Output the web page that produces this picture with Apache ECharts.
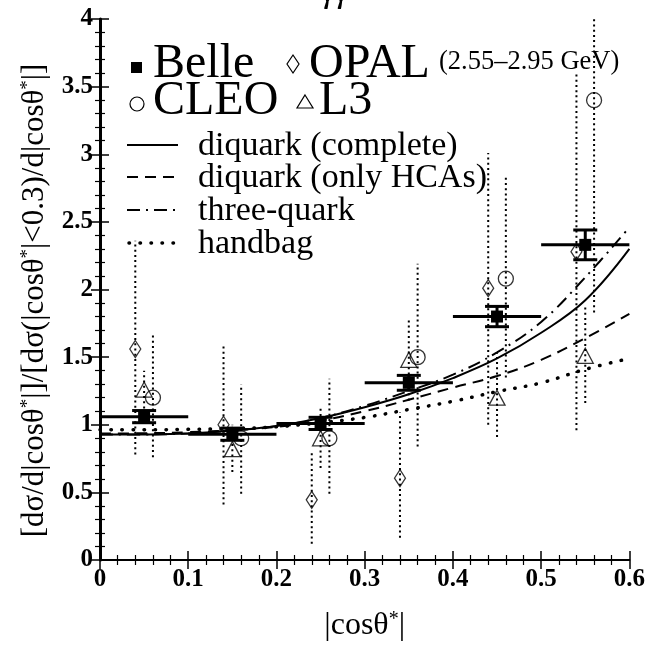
<!DOCTYPE html>
<html><head><meta charset="utf-8">
<script src="https://cdn.jsdelivr.net/npm/echarts@6/dist/echarts.min.js"></script>
<style>html,body{margin:0;padding:0;background:#fff}#c{width:648px;height:647px}</style>
</head><body><div id="c"></div>
<script>
// ---- data ----
const xTicks = [0, 0.1, 0.2, 0.3, 0.4, 0.5, 0.6];
const yTicks = [0, 0.5, 1, 1.5, 2, 2.5, 3, 3.5, 4];
const binHalfWidth = 0.05;
const belleX = [0.05, 0.15, 0.25, 0.35, 0.45, 0.55];
const belleY = [1.06, 0.93, 1.01, 1.31, 1.80, 2.33];
const belleErr = [0.045, 0.045, 0.045, 0.055, 0.075, 0.11];

const opalX = [0.04, 0.14, 0.24, 0.34, 0.44, 0.54];
const opalY = [1.56, 1.00, 0.445, 0.605, 2.01, 2.28];
const opalLo = [0.78, 0.41, 0.12, 0.165, 1.00, 0.96];
const opalHi = [2.36, 1.59, 0.80, 1.09, 3.01, 3.59];

const cleoX = [0.06, 0.16, 0.26, 0.36, 0.46, 0.56];
const cleoY = [1.20, 0.90, 0.90, 1.50, 2.08, 3.40];
const cleoLo = [0.76, 0.49, 0.49, 0.84, 1.35, 1.83];
const cleoHi = [1.66, 1.30, 1.34, 2.19, 2.83, 4.97];

const l3X = [0.05, 0.15, 0.25, 0.35, 0.45, 0.55];
const l3Y = [1.26, 0.82, 0.90, 1.48, 1.20, 1.51];
const l3Lo = [1.12, 0.65, 0.68, 1.18, 0.91, 1.16];
const l3Hi = [1.40, 1.00, 1.14, 1.79, 1.53, 1.89];

const curveX = [0, 0.05, 0.1, 0.15, 0.2, 0.25, 0.3, 0.35, 0.4, 0.45, 0.5, 0.55, 0.6];
const diquarkComplete = [0.927, 0.928, 0.935, 0.958, 0.99, 1.05, 1.13, 1.226, 1.345, 1.49, 1.68, 1.92, 2.30];
const diquarkHCA = [0.935, 0.937, 0.945, 0.96, 0.985, 1.03, 1.10, 1.185, 1.275, 1.36, 1.48, 1.64, 1.82];
const threeQuark = [0.927, 0.928, 0.935, 0.958, 0.99, 1.05, 1.14, 1.25, 1.37, 1.535, 1.76, 2.09, 2.46];
const handbag = [0.963, 0.963, 0.966, 0.972, 0.985, 1.015, 1.054, 1.113, 1.173, 1.245, 1.31, 1.41, 1.49];

// ---- helpers ----
const FONT = '"Liberation Serif", "DejaVu Serif", serif';
const zip = (a, b) => a.map((v, i) => [v, b[i]]);

function belleRender(params, api) {
  const x = api.value(0), y = api.value(1), e = api.value(2), hw = api.value(3);
  const pL = api.coord([x - hw, y]), pR = api.coord([x + hw, y]);
  const pT = api.coord([x, y + e]), pB = api.coord([x, y - e]);
  const c = api.coord([x, y]);
  const st = { stroke: '#000', lineWidth: 3 };
  const cap = 12;
  return { type: 'group', children: [
    { type: 'line', shape: { x1: pL[0], y1: pL[1], x2: pR[0], y2: pR[1] }, style: st },
    { type: 'line', shape: { x1: pT[0], y1: pT[1], x2: pB[0], y2: pB[1] }, style: st },
    { type: 'line', shape: { x1: pT[0] - cap, y1: pT[1], x2: pT[0] + cap, y2: pT[1] }, style: st },
    { type: 'line', shape: { x1: pB[0] - cap, y1: pB[1], x2: pB[0] + cap, y2: pB[1] }, style: st },
    { type: 'rect', shape: { x: c[0] - 6, y: c[1] - 6, width: 12, height: 12 }, style: { fill: '#000' } }
  ]};
}
function dotErrRender(params, api) {
  const x = api.value(0), lo = api.value(1), hi = api.value(2);
  const a = api.coord([x, lo]), b = api.coord([x, hi]);
  return { type: 'line', shape: { x1: a[0], y1: a[1], x2: b[0], y2: b[1] },
    style: { stroke: '#000', lineWidth: 2, lineDash: [2, 3.2] } };
}
function errSeries(xs, lo, hi) {
  return { type: 'custom', clip: true, renderItem: dotErrRender, z: 3,
    data: xs.map((x, i) => [x, lo[i], hi[i]]) };
}
function markerSeries(xs, ys, symbol, size) {
  return { type: 'scatter', symbol: symbol, symbolSize: size, z: 4,
    itemStyle: { color: 'rgba(0,0,0,0)', borderColor: '#000', borderWidth: 1.3 },
    data: zip(xs, ys) };
}
function curve(ys, lineStyle) {
  return { type: 'line', smooth: 0.4, showSymbol: false, z: 5,
    lineStyle: Object.assign({ color: '#000', width: 2 }, lineStyle), data: zip(curveX, ys) };
}

function axisCommon(w) {
  return {
    axisLine: { show: true, lineStyle: { color: '#000', width: w } },
    axisTick: { show: true, inside: true, length: 9, lineStyle: { color: '#000', width: 1.5 } },
    minorTick: { show: true, splitNumber: 5, length: 5, lineStyle: { color: '#000', width: 1.2 } },
    splitLine: { show: false }
  };
}
const labelStyle = { color: '#000', fontFamily: FONT, fontWeight: 'bold', fontSize: 25 };

const chart = echarts.init(document.getElementById('c'), null, { renderer: 'canvas' });
const opt = {
  animation: false,
  backgroundColor: '#fff',
  grid: { left: 100, right: 18, top: 19, bottom: 70 },
  xAxis: [
    Object.assign({ type: 'value', min: xTicks[0], max: xTicks[xTicks.length - 1], interval: 0.1,
      position: 'bottom',
      axisLabel: Object.assign({ margin: 7, formatter: v => String(+v.toFixed(1)) }, labelStyle),
      name: '|cosθ{s|*}|', nameLocation: 'middle', nameGap: 50,
      nameTextStyle: { color: '#000', fontFamily: FONT, fontSize: 32,
        rich: { s: { fontFamily: FONT, fontSize: 20, verticalAlign: 'top', color: '#000' } } } }, axisCommon(2)),
    Object.assign({ type: 'value', min: 0, max: 0.6, interval: 0.1, position: 'top',
      axisLabel: { show: false } }, axisCommon(1.5))
  ],
  yAxis: [
    Object.assign({ type: 'value', min: yTicks[0], max: yTicks[yTicks.length - 1], interval: 0.5,
      position: 'left',
      axisLabel: Object.assign({ margin: 7, formatter: v => String(+v.toFixed(1)) }, labelStyle),
      name: '[dσ/d|cosθ{s|*}|]/[dσ(|cosθ{s|*}|<0.3)/d|cosθ{s|*}|]',
      nameLocation: 'middle', nameRotate: 90, nameGap: 50,
      nameTextStyle: { color: '#000', fontFamily: FONT, fontSize: 31, padding: [0, 22, 0, 0],
        rich: { s: { fontFamily: FONT, fontSize: 19, verticalAlign: 'top', color: '#000' } } } }, axisCommon(2)),
    Object.assign({ type: 'value', min: 0, max: 4, interval: 0.5, position: 'right',
      axisLabel: { show: false } }, axisCommon(3))
  ],
  series: [
    errSeries(opalX, opalLo, opalHi),
    errSeries(cleoX, cleoLo, cleoHi),
    errSeries(l3X, l3Lo, l3Hi),
    markerSeries(opalX, opalY, 'diamond', [11, 17]),
    markerSeries(cleoX, cleoY, 'circle', 15),
    markerSeries(l3X, l3Y, 'triangle', [16, 15]),
    curve(diquarkComplete, { type: 'solid' }),
    curve(diquarkHCA, { type: [11, 7] }),
    curve(threeQuark, { type: [13, 6, 2, 6] }),
    curve(handbag, { type: [0.5, 10.5], width: 3.5, cap: 'round' }),
    { type: 'custom', renderItem: belleRender, z: 6,
      data: belleX.map((x, i) => [x, belleY[i], belleErr[i], binHalfWidth]) }
  ],
  graphic: [
    { type: 'text', left: 322, top: -24, style: { text: 'γγ', font: 'italic 34px ' + FONT, fill: '#000' } },
    { type: 'rect', shape: { x: 131, y: 62, width: 11, height: 11 }, style: { fill: '#000' } },
    { type: 'text', x: 153, y: 88, style: { text: 'Belle', font: '48px ' + FONT, fill: '#000', textVerticalAlign: 'bottom' } },
    { type: 'polygon', shape: { points: [[293, 55], [299, 64], [293, 73], [287, 64]] }, style: { fill: 'none', stroke: '#000', lineWidth: 1.2 } },
    { type: 'text', x: 309, y: 88, style: { text: 'OPAL', font: '48px ' + FONT, fill: '#000', textVerticalAlign: 'bottom' } },
    { type: 'text', x: 439, y: 76, style: { text: '(2.55–2.95 GeV)', font: '26.5px ' + FONT, fill: '#000', textVerticalAlign: 'bottom' } },
    { type: 'circle', shape: { cx: 137, cy: 104, r: 7 }, style: { fill: 'none', stroke: '#000', lineWidth: 1.2 } },
    { type: 'text', x: 153, y: 125, style: { text: 'CLEO', font: '48px ' + FONT, fill: '#000', textVerticalAlign: 'bottom' } },
    { type: 'polygon', shape: { points: [[305, 95], [313, 108], [297, 108]] }, style: { fill: 'none', stroke: '#000', lineWidth: 1.2 } },
    { type: 'text', x: 319, y: 125, style: { text: 'L3', font: '48px ' + FONT, fill: '#000', textVerticalAlign: 'bottom' } },
    { type: 'line', shape: { x1: 127, y1: 145, x2: 178, y2: 145 }, style: { stroke: '#000', lineWidth: 2 } },
    { type: 'line', shape: { x1: 127, y1: 177, x2: 178, y2: 177 }, style: { stroke: '#000', lineWidth: 2, lineDash: [11, 7] } },
    { type: 'line', shape: { x1: 127, y1: 210, x2: 178, y2: 210 }, style: { stroke: '#000', lineWidth: 2, lineDash: [13, 6, 2, 6] } },
    { type: 'line', shape: { x1: 129, y1: 243, x2: 180, y2: 243 }, style: { stroke: '#000', lineWidth: 3.5, lineDash: [0.5, 10.5], lineCap: 'round' } },
    { type: 'text', x: 198, y: 146, style: { text: 'diquark (complete)', font: '34px ' + FONT, fill: '#000', textVerticalAlign: 'middle' } },
    { type: 'text', x: 198, y: 178, style: { text: 'diquark (only HCAs)', font: '34px ' + FONT, fill: '#000', textVerticalAlign: 'middle' } },
    { type: 'text', x: 198, y: 211, style: { text: 'three-quark', font: '34px ' + FONT, fill: '#000', textVerticalAlign: 'middle' } },
    { type: 'text', x: 198, y: 244, style: { text: 'handbag', font: '34px ' + FONT, fill: '#000', textVerticalAlign: 'middle' } }
  ]
};
chart.setOption(opt);
</script></body></html>
